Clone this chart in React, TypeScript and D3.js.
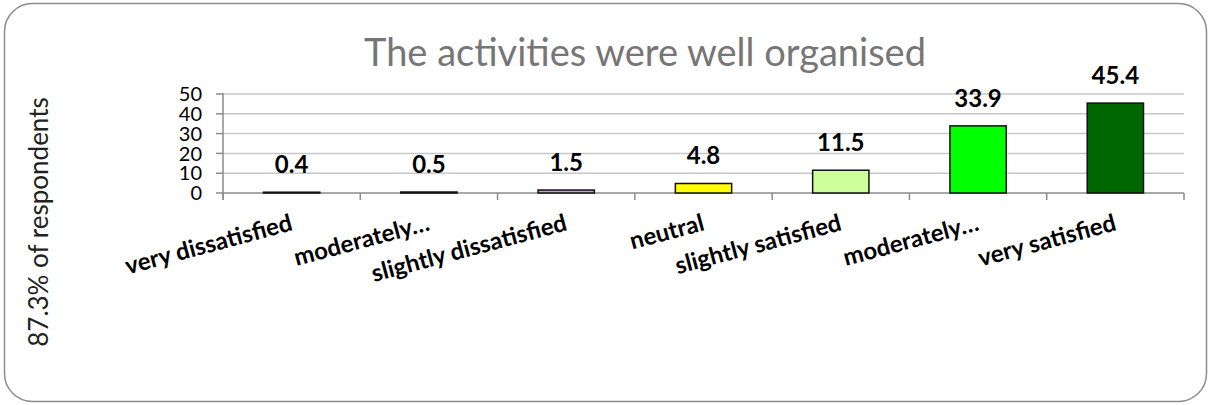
import React from "react";
import * as d3 from "d3";

const categories = [
  "very dissatisfied",
  "moderately…",
  "slightly dissatisfied",
  "neutral",
  "slightly satisfied",
  "moderately…",
  "very satisfied",
];
const values = [0.4, 0.5, 1.5, 4.8, 11.5, 33.9, 45.4];
const barColors = ["#808080", "#808080", "#cc99cc", "#ffff00", "#ccff99", "#00ff00", "#006600"];
const yTicks = [0, 10, 20, 30, 40, 50];
const titleText = "The activities were well organised";
const yAxisTitle = "87.3% of respondents";

const W = 1208;
const H = 405;
const plot = { left: 223, right: 1184, top: 94, bottom: 193 };

export default function App() {
  const x = d3
    .scaleBand<number>()
    .domain(d3.range(categories.length))
    .range([plot.left, plot.right])
    .paddingInner(0.59)
    .paddingOuter(0.295);
  const step = (plot.right - plot.left) / categories.length;
  const y = d3.scaleLinear().domain([0, 50]).range([plot.bottom, plot.top]);
  const font = "Lato, 'Open Sans', sans-serif";

  return (
    <svg
      width={W}
      height={H}
      style={{ position: "absolute", left: 0, top: 0, background: "#fff" }}
      fontFamily={font}
    >
      <rect x={4.5} y={3.5} width={1202} height={398} rx={28} ry={28} fill="#fff" stroke="#8c8c8c" strokeWidth={1.5} />
      <text x={645} y={66} textAnchor="middle" fontSize={38} fill="#767676">
        {titleText}
      </text>
      <text
        transform={`translate(48,222) rotate(-90)`}
        textAnchor="middle"
        fontSize={26}
        fill="#222"
      >
        {yAxisTitle}
      </text>
      {yTicks.map((t) => (
        <g key={"g" + t}>
          {t > 0 && (
            <line x1={plot.left} x2={plot.right} y1={y(t)} y2={y(t)} stroke="#c8c8c8" strokeWidth={1.5} />
          )}
          <line x1={plot.left - 7} x2={plot.left} y1={y(t)} y2={y(t)} stroke="#8c8c8c" strokeWidth={1.5} />
          <text x={202} y={y(t)} dy="0.36em" textAnchor="end" fontSize={20} fill="#000">
            {t}
          </text>
        </g>
      ))}
      <line x1={plot.left} x2={plot.left} y1={plot.top - 1} y2={plot.bottom + 7} stroke="#8c8c8c" strokeWidth={1.5} />
      <line x1={plot.left} x2={plot.right} y1={plot.bottom} y2={plot.bottom} stroke="#8c8c8c" strokeWidth={1.5} />
      {d3.range(categories.length + 1).map((i) => (
        <line
          key={"t" + i}
          x1={plot.left + i * step}
          x2={plot.left + i * step}
          y1={plot.bottom}
          y2={plot.bottom + 7}
          stroke="#8c8c8c"
          strokeWidth={1.5}
        />
      ))}
      {values.map((v, i) => (
        <g key={"b" + i}>
          <rect
            x={x(i)}
            y={y(v)}
            width={x.bandwidth()}
            height={plot.bottom - y(v)}
            fill={barColors[i]}
            stroke="#111"
            strokeWidth={1.5}
          />
          <text
            x={(x(i) as number) + x.bandwidth() / 2}
            y={y(v) - 19}
            textAnchor="middle"
            fontSize={24}
            fontWeight="bold"
            fill="#000"
          >
            {v.toFixed(1)}
          </text>
        </g>
      ))}
      {categories.map((c, i) => (
        <text
          key={"c" + i}
          transform={`translate(${(x(i) as number) + x.bandwidth() / 2 + 2},230) rotate(-15)`}
          textAnchor="end"
          fontSize={24}
          fontWeight="bold"
          fill="#000"
        >
          {c}
        </text>
      ))}
    </svg>
  );
}
